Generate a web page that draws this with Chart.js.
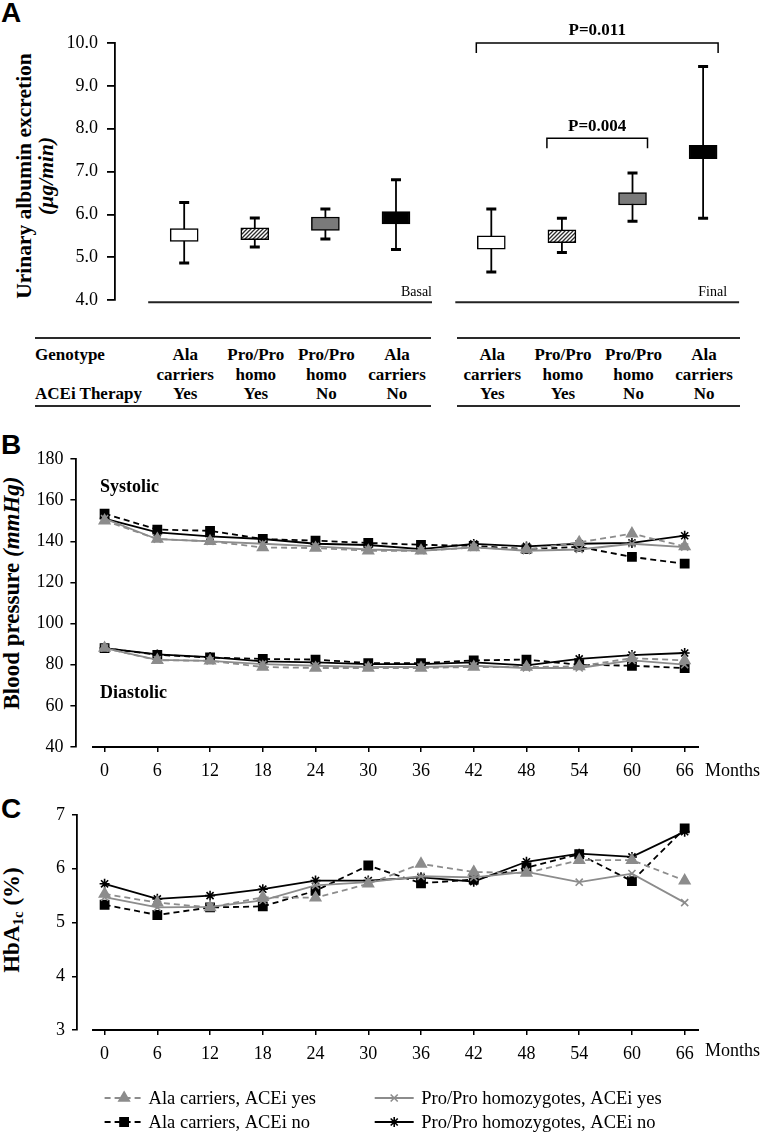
<!DOCTYPE html>
<html><head><meta charset="utf-8">
<script src="https://cdn.jsdelivr.net/npm/chart.js@4.4.0/dist/chart.umd.min.js"></script>
<style>
html,body{margin:0;padding:0;background:#fff;}
body{width:762px;height:1133px;position:relative;overflow:hidden;font-family:"Liberation Serif","Times New Roman",serif;color:#000;}
canvas{position:absolute;left:0;}
.panel{position:absolute;left:1px;font-family:"Liberation Sans",Arial,sans-serif;font-weight:bold;font-size:28px;line-height:28px;}
.rot{position:absolute;transform:rotate(-90deg);transform-origin:center center;text-align:center;white-space:nowrap;font-weight:bold;}
.tline{position:absolute;height:2px;background:#2a2a2a;}
.tt{position:absolute;font-weight:bold;font-size:17px;line-height:19.5px;white-space:nowrap;}
.lab{position:absolute;white-space:nowrap;}
</style></head>
<body>
<div class="panel" style="top:-1px">A</div>
<div class="panel" style="top:431px">B</div>
<div class="panel" style="top:795px">C</div>

<div class="rot" style="width:320px;height:44px;left:-125px;top:154px;font-size:21.5px;line-height:22px;">Urinary albumin excretion<br><i>(µg/min)</i></div>
<div class="rot" style="width:300px;height:26px;left:-138px;top:580px;font-size:23px;line-height:26px;">Blood pressure <i>(mmHg)</i></div>
<div class="rot" style="width:200px;height:28px;left:-88px;top:906px;font-size:23px;line-height:28px;">HbA<sub style="font-size:15px;vertical-align:-4px">1c</sub> (%)</div>

<canvas id="cA" width="762" height="320" style="top:0"></canvas>
<div id="table"></div>
<canvas id="cB" width="762" height="370" style="top:420px"></canvas>
<canvas id="cC" width="762" height="343" style="top:790px"></canvas>

<div class="lab" style="left:100px;top:476px;font-weight:bold;font-size:18px;">Systolic</div>
<div class="lab" style="left:100px;top:682px;font-weight:bold;font-size:18px;">Diastolic</div>
<div class="lab" style="left:705px;top:760px;font-size:18px;">Months</div>
<div class="lab" style="left:705px;top:1040px;font-size:18px;">Months</div>

<script>
// ---------------- DATA ----------------
// Panel A: urinary albumin excretion box plots
const boxPeriod = ['Basal','Basal','Basal','Basal','Final','Final','Final','Final'];
const genotypeLine1 = ['Ala','Pro/Pro','Pro/Pro','Ala','Ala','Pro/Pro','Pro/Pro','Ala'];
const genotypeLine2 = ['carriers','homo','homo','carriers','carriers','homo','homo','carriers'];
const aceiTherapy = ['Yes','Yes','No','No','Yes','Yes','No','No'];
const uaeMin = [4.87, 5.24, 5.43, 5.18, 4.66, 5.11, 5.84, 5.91];
const uaeQ1  = [5.37, 5.41, 5.63, 5.78, 5.19, 5.34, 6.22, 7.30];
const uaeQ3  = [5.67, 5.69, 5.94, 6.07, 5.50, 5.64, 6.51, 7.61];
const uaeMax = [6.28, 5.92, 6.13, 6.81, 6.13, 5.91, 6.97, 9.45];
const uaeTicks = [4, 5, 6, 7, 8, 9, 10];
const pLabels = ['P=0.011', 'P=0.004'];
const pFrom = [4, 5];
const pTo = [7, 6];
const pLevel = [10.0, 7.78];

// Panels B and C
const months = [0, 6, 12, 18, 24, 30, 36, 42, 48, 54, 60, 66];
const seriesNames = ['Ala carriers, ACEi yes', 'Ala carriers, ACEi no', 'Pro/Pro homozygotes, ACEi yes', 'Pro/Pro homozygotes, ACEi no'];
const sysAlaYes = [150, 141.1, 140, 137, 136.7, 135.4, 135.4, 137, 136, 139.5, 143.7, 137.5];
const sysAlaNo  = [153.4, 145.7, 145.1, 141.1, 140.3, 139.2, 138.3, 137.8, 136.2, 137.3, 132.4, 129.1];
const sysProYes = [151, 141, 140, 138.8, 137.5, 136, 135.4, 137, 135.4, 136, 138.8, 137.2];
const sysProNo  = [151, 144.3, 142.4, 141.1, 138.8, 138.2, 136.2, 138.7, 137.5, 138.8, 139.2, 142.7];
const diaAlaYes = [88.1, 82.2, 81.9, 78.9, 78.4, 78.4, 78.4, 78.9, 78.9, 79.2, 83.2, 82.1];
const diaAlaNo  = [88.1, 84.8, 83.5, 82.8, 82.5, 80.8, 80.8, 82.1, 82.5, 80.0, 79.5, 78.4];
const diaProYes = [88.1, 82.4, 81.9, 80.3, 79.5, 78.9, 78.9, 79.5, 78.4, 78.4, 82.1, 80.0];
const diaProNo  = [88.1, 85.0, 83.7, 81.6, 81.1, 80.3, 80.3, 81.1, 79.7, 82.8, 84.7, 85.7];
const bpTicks = [40, 60, 80, 100, 120, 140, 160, 180];
const hbaAlaYes = [5.53, 5.37, 5.28, 5.47, 5.46, 5.72, 6.09, 5.94, 5.92, 6.16, 6.16, 5.78];
const hbaAlaNo  = [5.33, 5.14, 5.28, 5.30, 5.59, 6.06, 5.73, 5.80, 6.02, 6.27, 5.77, 6.75];
const hbaProYes = [5.47, 5.28, 5.29, 5.41, 5.69, 5.75, 5.86, 5.84, 5.94, 5.75, 5.91, 5.37];
const hbaProNo  = [5.72, 5.44, 5.50, 5.62, 5.78, 5.78, 5.84, 5.76, 6.13, 6.28, 6.22, 6.69];
const hbaTicks = [3, 4, 5, 6, 7];

// ---------------- STYLE ----------------
const SERIF = '"Liberation Serif","Times New Roman",serif';
const GRAY = '#8c8c8c';
function hatchPattern(){
  const c = document.createElement('canvas'); c.width = 4; c.height = 4;
  const g = c.getContext('2d');
  g.fillStyle = '#fff'; g.fillRect(0,0,4,4);
  g.strokeStyle = '#2b2b2b'; g.lineWidth = 1.3;
  g.beginPath();
  g.moveTo(-1,5); g.lineTo(5,-1);
  g.moveTo(-1,1); g.lineTo(1,-1);
  g.moveTo(3,5); g.lineTo(5,3);
  g.stroke();
  return g.createPattern(c, 'repeat');
}
const hatch = hatchPattern();
const boxFills = ['#ffffff', hatch, '#7a7a7a', '#000000', '#ffffff', hatch, '#7a7a7a', '#000000'];
const boxX = i => i + (i >= 4 ? 0.35 : 0);

// ---------------- PANEL A ----------------
const boxPlotPlugin = {
  id: 'boxExtras',
  beforeDatasetsDraw(chart){
    const {ctx, scales:{x, y}} = chart;
    ctx.save();
    ctx.strokeStyle = '#000';
    for (let i = 0; i < uaeMin.length; i++){
      const px = x.getPixelForValue(boxX(i));
      const yt = y.getPixelForValue(uaeMax[i]);
      const yb = y.getPixelForValue(uaeMin[i]);
      ctx.lineWidth = 1.8;
      ctx.beginPath(); ctx.moveTo(px, yt); ctx.lineTo(px, yb); ctx.stroke();
      ctx.lineWidth = 3;
      ctx.beginPath();
      ctx.moveTo(px - 5, yt); ctx.lineTo(px + 5, yt);
      ctx.moveTo(px - 5, yb); ctx.lineTo(px + 5, yb);
      ctx.stroke();
    }
    ctx.restore();
  },
  afterDraw(chart){
    const {ctx, scales:{x, y}} = chart;
    ctx.save();
    const baseY = y.getPixelForValue(uaeTicks[0]) + 2;
    const groups = [...new Set(boxPeriod)];
    ctx.strokeStyle = '#222'; ctx.lineWidth = 2;
    groups.forEach(gname => {
      const idx = boxPeriod.map((p,i)=>p===gname?i:-1).filter(i=>i>=0);
      const x1 = x.getPixelForValue(boxX(idx[0])) - 36;
      const x2 = x.getPixelForValue(boxX(idx[idx.length-1])) + 36;
      ctx.beginPath(); ctx.moveTo(x1, baseY); ctx.lineTo(x2, baseY); ctx.stroke();
      ctx.fillStyle = '#000';
      ctx.font = '14px ' + SERIF;
      ctx.textAlign = 'right'; ctx.textBaseline = 'middle';
      ctx.fillText(gname, gname === 'Basal' ? x2 : x2 - 12, baseY - 10);
    });
    ctx.lineWidth = 1.5; ctx.strokeStyle = '#000';
    pLabels.forEach((lab, k) => {
      const x1 = x.getPixelForValue(boxX(pFrom[k])) - 15;
      const x2 = x.getPixelForValue(boxX(pTo[k])) + 15;
      const yy = y.getPixelForValue(pLevel[k]);
      ctx.beginPath();
      ctx.moveTo(x1, yy + 10); ctx.lineTo(x1, yy); ctx.lineTo(x2, yy); ctx.lineTo(x2, yy + 10);
      ctx.stroke();
      ctx.font = 'bold 17px ' + SERIF;
      ctx.textAlign = 'center'; ctx.textBaseline = 'middle';
      ctx.fillStyle = '#000';
      ctx.fillText(lab, (x1 + x2) / 2, yy - 12);
    });
    ctx.restore();
  }
};

const chartA = new Chart(document.getElementById('cA'), {
  type: 'bar',
  data: {
    datasets: [{
      data: uaeQ1.map((q, i) => ({x: boxX(i), y: [q, uaeQ3[i]]})),
      backgroundColor: boxFills,
      borderColor: '#000',
      borderWidth: 1.5,
      borderSkipped: false,
      barThickness: 28
    }]
  },
  options: {
    responsive: false, animation: false,
    layout: {padding: {left: 55, right: 13, top: 43, bottom: 14}},
    plugins: {legend: {display: false}, tooltip: {enabled: false}},
    scales: {
      x: {type: 'linear', min: -0.98, max: 8, offset: false, display: false},
      y: {
        type: 'linear', position: 'left', min: 4, max: 10,
        afterFit: s => { s.width = 60; },
        afterBuildTicks: s => { s.ticks = uaeTicks.map(v => ({value: v})); },
        ticks: {callback: v => Number(v).toFixed(1), font: {family: SERIF, size: 18}, color: '#000', padding: 9},
        grid: {drawOnChartArea: false, tickLength: 8, color: '#000', lineWidth: 1.8},
        border: {color: '#000', width: 1.8}
      }
    }
  },
  plugins: [boxPlotPlugin]
});

// Table under panel A
(function buildTable(){
  const t = document.getElementById('table');
  const xs = chartA.scales.x;
  let html = '';
  [[35,431],[457,740]].forEach(([a,b]) => {
    html += `<div class="tline" style="left:${a}px;width:${b-a}px;top:337px"></div>`;
    html += `<div class="tline" style="left:${a}px;width:${b-a}px;top:405px"></div>`;
  });
  html += `<div class="tt" style="left:35px;top:345px">Genotype</div>`;
  html += `<div class="tt" style="left:35px;top:384px">ACEi Therapy</div>`;
  for (let i = 0; i < genotypeLine1.length; i++){
    const cx = xs.getPixelForValue(boxX(i)) + 1;
    html += `<div class="tt" style="left:${cx-50}px;width:100px;text-align:center;top:345px">${genotypeLine1[i]}<br>${genotypeLine2[i]}<br>${aceiTherapy[i]}</div>`;
  }
  t.innerHTML = html;
})();

// ---------------- PANELS B & C ----------------
const styles = [
  {borderColor: GRAY, borderDash: [6,4], pointStyle: 'triangle', pointRadius: 6, pointBackgroundColor: GRAY, pointBorderColor: GRAY},
  {borderColor: '#000', borderDash: [6,4], pointStyle: 'rect', pointRadius: 5.8, pointBackgroundColor: '#000', pointBorderColor: '#000'},
  {borderColor: GRAY, borderDash: [], pointStyle: 'crossRot', pointRadius: 5, pointBackgroundColor: GRAY, pointBorderColor: GRAY},
  {borderColor: '#000', borderDash: [], pointStyle: 'star', pointRadius: 5, pointBackgroundColor: '#000', pointBorderColor: '#000'}
];
function mkSet(vals, k){
  return Object.assign({
    label: seriesNames[k],
    data: months.map((m, i) => ({x: m, y: vals[i]})),
    borderWidth: 1.8, pointBorderWidth: 1.6, fill: false, tension: 0
  }, styles[k]);
}
// x axis line starts a little to the right of the y axis (detached axes)
const axisLinePlugin = {
  id: 'xAxisLine',
  afterDraw(chart){
    const {ctx, chartArea, scales:{x}} = chart;
    ctx.save();
    ctx.strokeStyle = '#000'; ctx.lineWidth = 1.8;
    ctx.beginPath();
    ctx.moveTo(x.getPixelForValue(-1.43), chartArea.bottom);
    ctx.lineTo(chartArea.right, chartArea.bottom);
    ctx.stroke();
    ctx.restore();
  }
};
function xScale(minV){
  return {
    type: 'linear', min: minV, max: 67.63, offset: false,
    afterBuildTicks: s => { s.ticks = months.map(v => ({value: v})); },
    afterFit: s => { s.height = 43; },
    ticks: {font: {family: SERIF, size: 18}, color: '#000', padding: 8, autoSkip: false, maxRotation: 0, callback: v => String(v)},
    grid: {drawOnChartArea: false, tickLength: 5, color: '#000', lineWidth: 1.5},
    border: {display: false}
  };
}
function yScale(min, max, ticksArr){
  return {
    type: 'linear', position: 'left', min: min, max: max,
    afterFit: s => { s.width = 60; },
    afterBuildTicks: s => { s.ticks = ticksArr.map(v => ({value: v})); },
    ticks: {font: {family: SERIF, size: 18}, color: '#000', padding: 7},
    grid: {drawOnChartArea: false, tickLength: 5, color: '#000', lineWidth: 1.5},
    border: {color: '#000', width: 1.8}
  };
}

new Chart(document.getElementById('cB'), {
  type: 'line',
  data: {datasets: [
    mkSet(sysProYes, 2), mkSet(sysAlaYes, 0), mkSet(sysProNo, 3), mkSet(sysAlaNo, 1),
    mkSet(diaProYes, 2), mkSet(diaAlaYes, 0), mkSet(diaProNo, 3), mkSet(diaAlaNo, 1)
  ]},
  options: {
    responsive: false, animation: false,
    layout: {padding: {left: 15.4, right: 63, top: 39, bottom: 0}},
    plugins: {legend: {display: false}, tooltip: {enabled: false}},
    scales: {x: xScale(-3.32), y: yScale(40, 180, bpTicks)}
  },
  plugins: [axisLinePlugin]
});

const legendPlugin = {
  id: 'customLegend',
  afterDraw(chart){
    const ctx = chart.ctx;
    const top = 790;
    const slots = [[0, 104.6, 1098], [2, 374.7, 1098], [1, 104.6, 1122], [3, 374.7, 1122]];
    ctx.save();
    slots.forEach(([k, x0, yPage]) => {
      const ds = chart.data.datasets.find(d => d.label === seriesNames[k]);
      const y = yPage - top;
      ctx.strokeStyle = ds.borderColor; ctx.lineWidth = 1.8;
      ctx.setLineDash(ds.borderDash || []);
      ctx.beginPath(); ctx.moveTo(x0, y); ctx.lineTo(x0 + 39, y); ctx.stroke();
      ctx.setLineDash([]);
      ctx.fillStyle = ds.pointBackgroundColor; ctx.strokeStyle = ds.pointBorderColor; ctx.lineWidth = 1.6;
      Chart.helpers.drawPoint(ctx, {pointStyle: ds.pointStyle, radius: ds.pointRadius, rotation: 0, borderWidth: 1.6}, x0 + 19.5, y);
      ctx.fillStyle = '#000';
      ctx.font = '18.5px ' + SERIF;
      ctx.textAlign = 'left'; ctx.textBaseline = 'middle';
      ctx.fillText(seriesNames[k], x0 + (k >= 2 ? 46.5 : 44), y + 1);
    });
    ctx.restore();
  }
};

new Chart(document.getElementById('cC'), {
  type: 'line',
  data: {datasets: [mkSet(hbaProYes, 2), mkSet(hbaAlaYes, 0), mkSet(hbaProNo, 3), mkSet(hbaAlaNo, 1)]},
  options: {
    responsive: false, animation: false,
    layout: {padding: {left: 17, right: 63, top: 25, bottom: 60}},
    plugins: {legend: {display: false}, tooltip: {enabled: false}},
    scales: {x: xScale(-3.14), y: yScale(3, 7, hbaTicks)}
  },
  plugins: [axisLinePlugin, legendPlugin]
});
</script>
</body></html>
